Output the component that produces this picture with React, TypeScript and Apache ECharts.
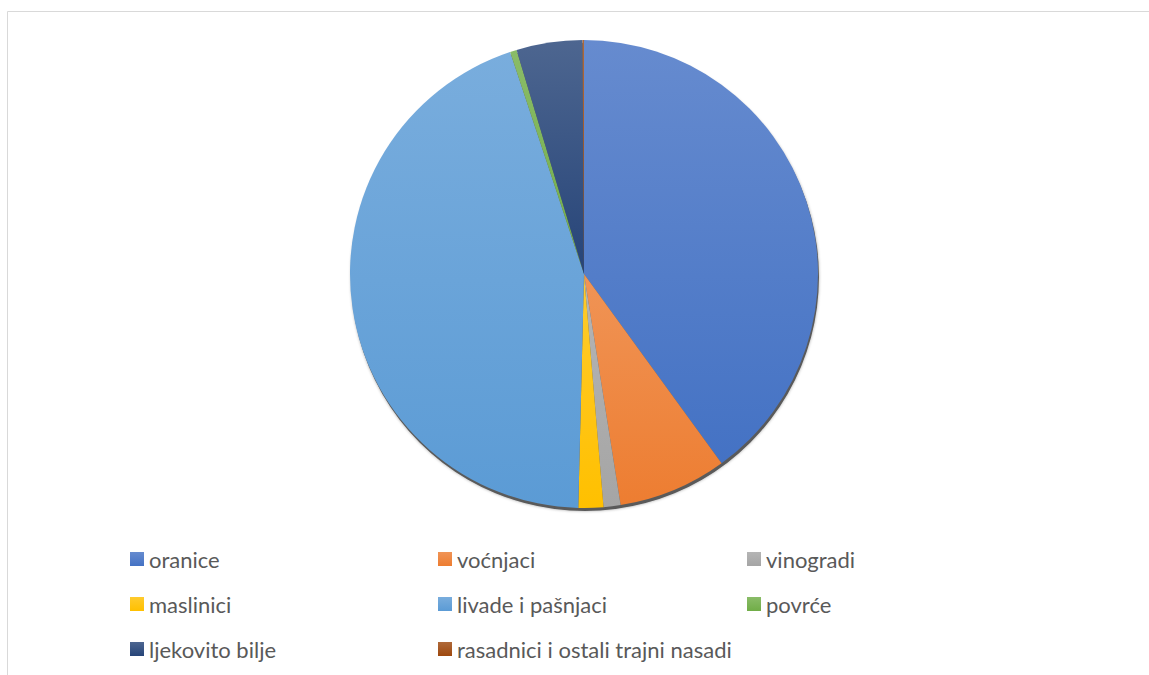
import React, { useEffect, useRef } from "react";
import * as echarts from "echarts";

const categories = [
  "oranice",
  "vo\u0107njaci",
  "vinogradi",
  "maslinici",
  "livade i pa\u0161njaci",
  "povr\u0107e",
  "ljekovito bilje",
  "rasadnici i ostali trajni nasadi",
];
const values = [40.0, 7.5, 1.17, 1.72, 44.5, 0.46, 4.55, 0.1];
const baseColors = ["#4472C4", "#ED7D31", "#A5A5A5", "#FFC000", "#5B9BD5", "#70AD47", "#264478", "#9E480E"];
const legendCol1 = [categories[0], categories[3], categories[6]];
const legendCol2 = [categories[1], categories[4], categories[7]];
const legendCol3 = [categories[2], categories[5]];

function mixWhite(hex: string, t: number) {
  const n = parseInt(hex.slice(1), 16);
  const r = (n >> 16) & 255, g = (n >> 8) & 255, b = n & 255;
  const m = (c: number) => Math.round(c + (255 - c) * t);
  return `rgb(${m(r)},${m(g)},${m(b)})`;
}

export default function App() {
  const ref = useRef<HTMLDivElement>(null);
  useEffect(() => {
    if (!ref.current) return;
    const chart = echarts.init(ref.current, undefined, { renderer: "svg" });
    const textStyle = { color: "#595959", fontSize: 22, fontFamily: "Lato", lineHeight: 22 };
    const mkLegend = (left: number, data: string[]) => ({
      orient: "vertical",
      left,
      top: 548,
      padding: 0,
      itemWidth: 14,
      itemHeight: 14,
      itemGap: 23,
      icon: "rect",
      selectedMode: false,
      textStyle,
      data,
    });
    chart.setOption({
      animation: false,
      graphic: [
        {
          type: "rect",
          shape: { x: 7.5, y: 11.5, width: 1300, height: 800 },
          style: { fill: "none", stroke: "#d9d9d9", lineWidth: 1 },
          silent: true,
        },
      ],
      legend: [mkLegend(130, legendCol1), mkLegend(438, legendCol2), mkLegend(747, legendCol3)],
      series: [
        {
          type: "pie",
          z: 1,
          silent: true,
          center: [585, 277],
          radius: 234,
          label: { show: false },
          labelLine: { show: false },
          data: [{ value: 1, name: "_shadow", itemStyle: { color: "#5a5a5a", shadowBlur: 3, shadowColor: "rgba(0,0,0,0.35)" } }],
        },
        {
          type: "pie",
          z: 2,
          center: [584, 274],
          radius: 234,
          startAngle: 90,
          clockwise: true,
          label: { show: false },
          labelLine: { show: false },
          emphasis: { disabled: true },
          data: categories.map((name, i) => ({
            name,
            value: values[i],
            itemStyle: {
              color: {
                type: "linear",
                x: 0, y: 0, x2: 0, y2: 1,
                colorStops: [
                  { offset: 0, color: mixWhite(baseColors[i], 0.18) },
                  { offset: 1, color: baseColors[i] },
                ],
              },
              borderWidth: 0,
            },
          })),
        },
      ],
    });
    return () => chart.dispose();
  }, []);
  return <div ref={ref} style={{ position: "fixed", left: 0, top: 0, width: 1149, height: 675, background: "#fff" }} />;
}
